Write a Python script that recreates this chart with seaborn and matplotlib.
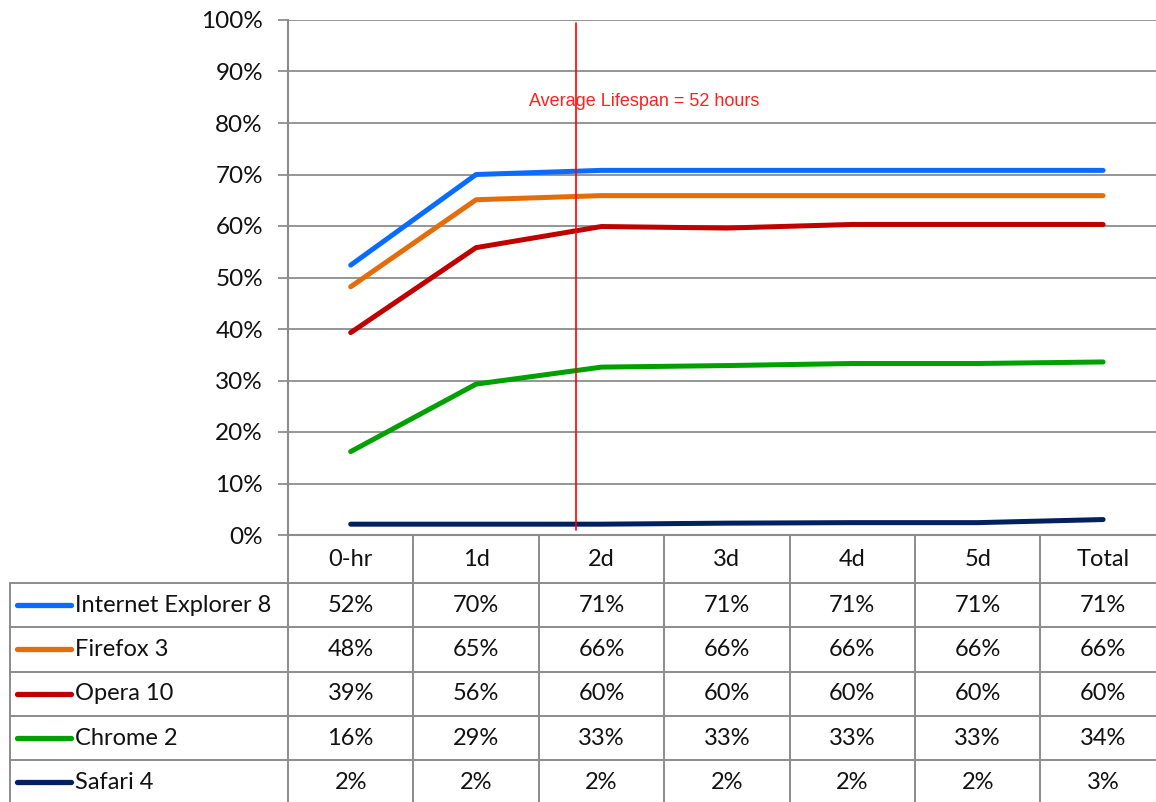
import numpy as np
import pandas as pd
import matplotlib
matplotlib.use("Agg")
import matplotlib.pyplot as plt
import seaborn as sns

# ---------------- data ----------------
categories = ["0-hr", "1d", "2d", "3d", "4d", "5d", "Total"]
browsers = ["Internet Explorer 8", "Firefox 3", "Opera 10", "Chrome 2", "Safari 4"]
ie8 = [52.4, 70.0, 70.8, 70.8, 70.8, 70.8, 70.8]
firefox3 = [48.2, 65.1, 65.9, 65.9, 65.9, 65.9, 65.9]
opera10 = [39.3, 55.8, 59.9, 59.6, 60.3, 60.3, 60.3]
chrome2 = [16.2, 29.3, 32.6, 32.9, 33.3, 33.3, 33.6]
safari4 = [2.1, 2.1, 2.1, 2.3, 2.4, 2.4, 3.0]
yticks = [0, 10, 20, 30, 40, 50, 60, 70, 80, 90, 100]
avg_lifespan_pos = 1.8
avg_label = "Average Lifespan = 52 hours"

series = [ie8, firefox3, opera10, chrome2, safari4]
colors = ["#0a6cff", "#e46c0a", "#c00000", "#00a000", "#002060"]

rows = []
for b, vals in zip(browsers, series):
    for i, (c, v) in enumerate(zip(categories, vals)):
        rows.append({"browser": b, "pos": i, "category": c, "value": v})
df = pd.DataFrame(rows)

# ---------------- figure ----------------
sns.set_theme(style="white")
plt.rcParams["font.family"] = ["Lato", "DejaVu Sans"]

W, H = 1156, 802
DPI = 100
fig = plt.figure(figsize=(W / DPI, H / DPI), dpi=DPI)

GRID = "#8c8c8c"
TXT = "#111111"
FS = 17
left_px, top_px, bottom_px = 288, 20, 535
colw = 125.4
ncol = len(categories)
right_px = left_px + colw * ncol

# full-figure axes for the data table (pixel coordinates)
tax = fig.add_axes([0, 0, 1, 1], zorder=0)
tax.set_xlim(0, W)
tax.set_ylim(H, 0)
tax.axis("off")

ax = fig.add_axes([left_px / W, (H - bottom_px) / H,
                   (right_px - left_px) / W, (bottom_px - top_px) / H], zorder=2)
ax.patch.set_alpha(0)

sns.lineplot(data=df, x="pos", y="value", hue="browser", hue_order=browsers,
             palette=colors, linewidth=3.6, legend=False, sort=False,
             solid_capstyle="round", ax=ax, zorder=3)

ax.set_xlim(-0.5, ncol - 0.5)
ax.set_ylim(0, 100)
ax.set_yticks(yticks)
ax.set_yticklabels([f"{t}%" for t in yticks], fontsize=17.5, color=TXT)
ax.set_xticks([])
ax.set_xlabel("")
ax.set_ylabel("")
ax.yaxis.grid(True, color=GRID, linewidth=1.3)
ax.tick_params(axis="y", which="major", left=True, length=7, width=1.3,
               color=GRID, pad=11)
for s in ["top", "right"]:
    ax.spines[s].set_visible(False)
for s in ["left", "bottom"]:
    ax.spines[s].set_color(GRID)
    ax.spines[s].set_linewidth(1.5)

ax.axvline(avg_lifespan_pos, ymin=0.01, ymax=0.995, color="#ff0000",
           linewidth=1.2, zorder=5)
ax.text(2.34, 84.2, avg_label, color="#ff2020", fontsize=13,
        family=["Liberation Sans", "DejaVu Sans"], ha="center", va="center",
        zorder=6)

# ---------------- data table ----------------
header_bottom = 583
row_h = 44.3
row_tops = [header_bottom + k * row_h for k in range(len(browsers) + 1)]
table_left = 10
lw_t = 1.4

for k in range(ncol + 1):
    x = left_px + k * colw
    tax.plot([x, x], [bottom_px, H + 10], color=GRID, lw=lw_t, zorder=1)
tax.plot([table_left, table_left], [header_bottom, H + 10], color=GRID, lw=lw_t)
for y in row_tops:
    tax.plot([table_left, W + 10], [y, y], color=GRID, lw=lw_t)

hdr_y = (bottom_px + header_bottom) / 2
for i, c in enumerate(categories):
    tax.text(left_px + (i + 0.5) * colw, hdr_y, c, ha="center", va="center",
             fontsize=FS, color=TXT)

for r, (b, vals, col) in enumerate(zip(browsers, series, colors)):
    yc = row_tops[r] + row_h / 2
    tax.plot([17, 71], [yc, yc], color=col, lw=3.8, solid_capstyle="round")
    tax.text(75, yc, b, ha="left", va="center", fontsize=FS, color=TXT)
    for i, v in enumerate(vals):
        tax.text(left_px + (i + 0.5) * colw, yc, f"{round(v)}%",
                 ha="center", va="center", fontsize=FS, color=TXT)

fig.savefig("out.png", dpi=DPI)
